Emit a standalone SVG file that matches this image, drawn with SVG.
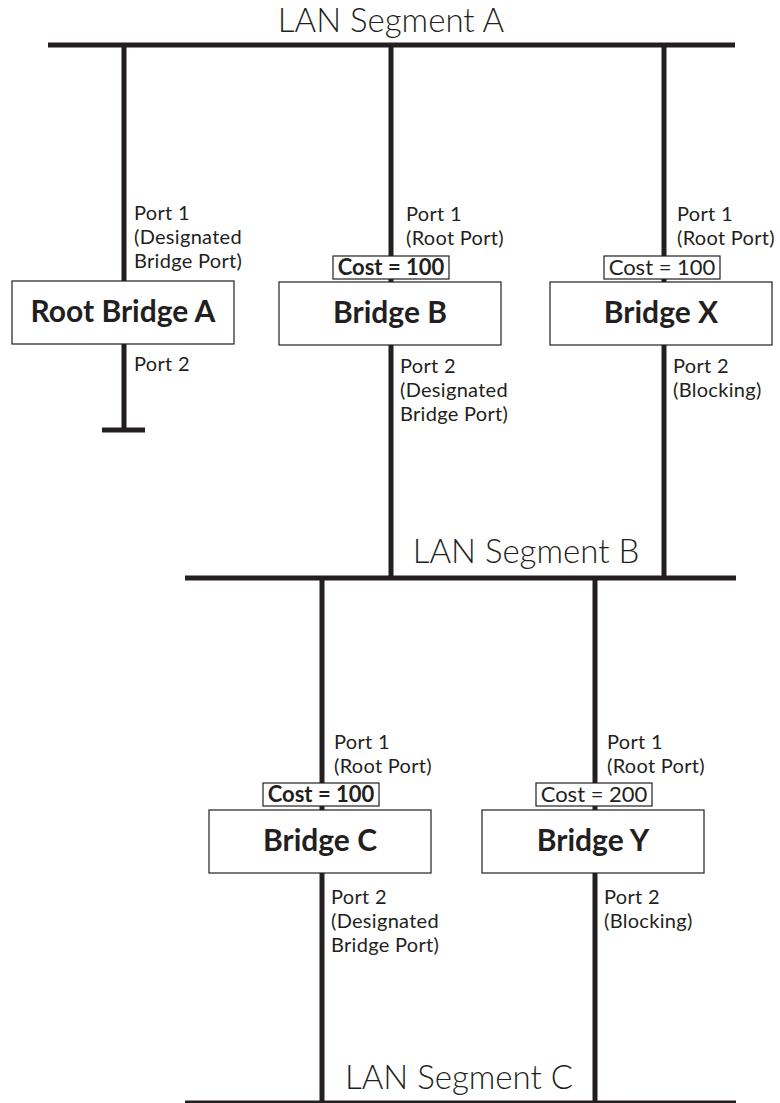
<svg xmlns="http://www.w3.org/2000/svg" width="780" height="1103" viewBox="0 0 780 1103">
<style>
.bus{stroke:#231f20;stroke-width:5;fill:none}
.box{fill:#fff;stroke:#231f20;stroke-width:1.2}
.seg{font-family:Lato,"Open Sans",sans-serif;font-size:33px;font-weight:300;fill:#231f20;text-anchor:middle}
.lbl{font-family:Lato,"Open Sans",sans-serif;font-size:20px;letter-spacing:0.3px;fill:#231f20}
.name{font-family:Lato,"Open Sans",sans-serif;font-size:30px;font-weight:bold;fill:#231f20;text-anchor:middle}
.cost{font-family:Lato,"Open Sans",sans-serif;font-size:22px;fill:#231f20;text-anchor:middle}
.costb{font-weight:bold}
</style>
<rect width="780" height="1103" fill="#fff"/>
<g id="connectors">
<line class="bus" x1="48" y1="45" x2="735" y2="45"/>
<line class="bus" x1="124" y1="45" x2="124" y2="430"/>
<line class="bus" x1="102" y1="430" x2="145" y2="430"/>
<line class="bus" x1="391" y1="45" x2="391" y2="578"/>
<line class="bus" x1="664" y1="45" x2="664" y2="578"/>
<line class="bus" x1="185" y1="578" x2="736" y2="578"/>
<line class="bus" x1="322" y1="578" x2="322" y2="1103"/>
<line class="bus" x1="595" y1="578" x2="595" y2="1103"/>
<line class="bus" x1="185" y1="1103" x2="736" y2="1103"/>
</g>
<g id="segA"><text class="seg" x="391" y="32">LAN Segment A</text></g>
<g id="segB"><text class="seg" x="526" y="563">LAN Segment B</text></g>
<g id="segC"><text class="seg" x="459" y="1089">LAN Segment C</text></g>
<g id="rootA">
<rect class="box" x="12" y="281" width="222" height="63"/>
<text class="name" x="123" y="322">Root Bridge A</text>
<text class="lbl" x="134" y="220">Port 1</text>
<text class="lbl" x="134" y="244">(Designated</text>
<text class="lbl" x="134" y="268">Bridge Port)</text>
<text class="lbl" x="134" y="371">Port 2</text>
</g>
<g id="bridgeB">
<text class="lbl" x="406" y="221">Port 1</text>
<text class="lbl" x="406" y="245">(Root Port)</text>
<rect class="box" x="333" y="256" width="116" height="23"/>
<text class="cost costb" x="391" y="275">Cost = 100</text>
<rect class="box" x="279" y="282" width="222" height="63"/>
<text class="name" x="390" y="323">Bridge B</text>
<text class="lbl" x="400" y="373">Port 2</text>
<text class="lbl" x="400" y="397">(Designated</text>
<text class="lbl" x="400" y="421">Bridge Port)</text>
</g>
<g id="bridgeX">
<text class="lbl" x="677" y="221">Port 1</text>
<text class="lbl" x="677" y="245">(Root Port)</text>
<rect class="box" x="604" y="256" width="116" height="23"/>
<text class="cost" x="662" y="275">Cost = 100</text>
<rect class="box" x="550" y="282" width="222" height="63"/>
<text class="name" x="661" y="323">Bridge X</text>
<text class="lbl" x="673" y="373">Port 2</text>
<text class="lbl" x="673" y="397">(Blocking)</text>
</g>
<g id="bridgeC">
<text class="lbl" x="334" y="749">Port 1</text>
<text class="lbl" x="334" y="773">(Root Port)</text>
<rect class="box" x="263" y="783" width="116" height="23"/>
<text class="cost costb" x="321" y="802">Cost = 100</text>
<rect class="box" x="209" y="810" width="222" height="63"/>
<text class="name" x="320" y="851">Bridge C</text>
<text class="lbl" x="331" y="904">Port 2</text>
<text class="lbl" x="331" y="928">(Designated</text>
<text class="lbl" x="331" y="952">Bridge Port)</text>
</g>
<g id="bridgeY">
<text class="lbl" x="607" y="749">Port 1</text>
<text class="lbl" x="607" y="773">(Root Port)</text>
<rect class="box" x="536" y="783" width="116" height="23"/>
<text class="cost" x="594" y="802">Cost = 200</text>
<rect class="box" x="482" y="810" width="222" height="63"/>
<text class="name" x="593" y="851">Bridge Y</text>
<text class="lbl" x="604" y="904">Port 2</text>
<text class="lbl" x="604" y="928">(Blocking)</text>
</g>
</svg>
